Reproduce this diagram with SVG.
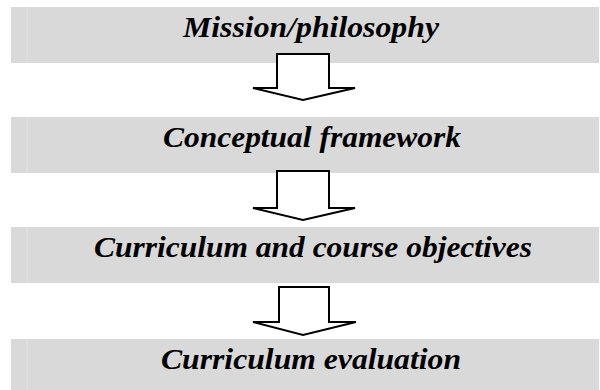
<svg xmlns="http://www.w3.org/2000/svg" width="600" height="390" viewBox="0 0 600 390">
<defs>
<style>
.box{fill:#d9d9d9;}
.edge{stroke:#e2e2e2;stroke-width:1;}
.lbl{font-family:"Liberation Serif","Times New Roman",serif;font-weight:bold;font-style:italic;font-size:30px;fill:#000;text-anchor:middle;}
.arr{fill:#fff;stroke:#000;stroke-width:2;stroke-linejoin:miter;}
</style>
</defs>
<rect width="600" height="390" fill="#fff"/>
<g id="node-mission">
<rect class="box" x="11" y="7" width="588" height="56"/>
<line class="edge" x1="27" y1="7" x2="27" y2="63"/>
<text class="lbl" x="311" y="37" textLength="256" lengthAdjust="spacingAndGlyphs">Mission/philosophy</text>
</g>
<g id="node-framework">
<rect class="box" x="11" y="117" width="588" height="56"/>
<line class="edge" x1="27" y1="117" x2="27" y2="173"/>
<text class="lbl" x="312" y="147" textLength="298" lengthAdjust="spacingAndGlyphs">Conceptual framework</text>
</g>
<g id="node-objectives">
<rect class="box" x="11" y="227" width="588" height="56"/>
<line class="edge" x1="27" y1="227" x2="27" y2="283"/>
<text class="lbl" x="313" y="257" textLength="438" lengthAdjust="spacingAndGlyphs">Curriculum and course objectives</text>
</g>
<g id="node-evaluation">
<rect class="box" x="11" y="339" width="588" height="56"/>
<line class="edge" x1="27" y1="339" x2="27" y2="390"/>
<text class="lbl" x="311" y="369" textLength="300" lengthAdjust="spacingAndGlyphs">Curriculum evaluation</text>
</g>
<g id="connectors">
<polygon class="arr" points="277,54 329,54 329,88 355,88 303,100 253,88 277,88"/>
<polygon class="arr" points="277,171 329,171 329,208 355,208 303,220 253,208 277,208"/>
<polygon class="arr" points="279,287 329,287 329,322 356,322 303,335 253,322 279,322"/>
</g>
</svg>
